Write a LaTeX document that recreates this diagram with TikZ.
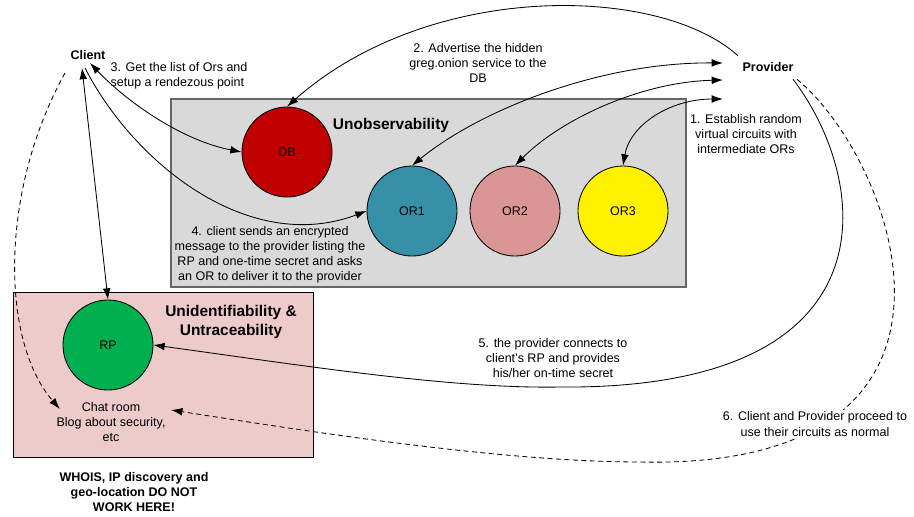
\documentclass[tikz,border=0pt]{standalone}
\usepackage{fontspec}
\setmainfont{Liberation Sans}
\usetikzlibrary{arrows.meta,calc}
\definecolor{boxgray}{HTML}{D9D9D9}
\definecolor{edgegray}{HTML}{666666}
\definecolor{boxpink}{HTML}{EDCBCB}
\definecolor{dbred}{HTML}{C00000}
\definecolor{orteal}{HTML}{3590A8}
\definecolor{orrose}{HTML}{DA9694}
\definecolor{rpgreen}{HTML}{00B050}
\begin{document}
\begin{tikzpicture}[x=0.025cm,y=-0.025cm,
		peer/.style={circle,draw=black,line width=0.6pt,minimum size=2.25cm,inner sep=0pt,font=\fontsize{8.9}{10.7}\selectfont},
		txt/.style={align=center,inner sep=1pt,font=\fontsize{8.9}{10.7}\selectfont},
		tag/.style={align=center,inner sep=1pt,font=\fontsize{8.9}{10.7}\selectfont\bfseries},
		head/.style={align=center,inner sep=1pt,font=\fontsize{11}{13.5}\selectfont\bfseries},
		link/.style={line width=0.6pt,-{Latex[length=8pt,width=5.5pt]}},
		twoway/.style={line width=0.6pt,{Latex[length=8pt,width=5.5pt]}-{Latex[length=8pt,width=5.5pt]}},
		dashlink/.style={link,dash pattern=on 3.5pt off 2.5pt}]
			\useasboundingbox (0,0) rectangle (914,516);
			\draw[draw=edgegray,line width=1pt,fill=boxgray] (171,99) rectangle (686,287);
			\draw[line width=0.7pt,fill=boxpink] (13,292) rectangle (313,457);
			\node[peer,fill=dbred] (db) at (287,152) {DB};
			\node[peer,fill=orteal] (or1) at (412,211) {OR1};
			\node[peer,fill=orrose] (or2) at (515,211) {OR2};
			\node[peer,fill=yellow] (or3) at (623,211) {OR3};
			\node[peer,fill=rpgreen] (rp) at (108,345) {RP};
			\node[tag] (client) at (88,55) {Client};
			\node[tag] (provider) at (768,67) {Provider};
			\node[head] (unobs) at (391,125) {Unobservability};
			\node[head] (unid) at (231,322) {Unidentifiability \&\\Untraceability};
			\node[txt] (chat) at (111,422) {Chat room\\Blog about security,\\etc};
			\node[tag] (whois) at (134,492) {WHOIS, IP discovery and\\geo-location DO NOT\\WORK HERE!};
			\node[txt] (step1) at (746,134) {1. Establish random\\virtual circuits with\\intermediate ORs};
			\node[txt] (step2) at (478,63) {2. Advertise the hidden\\greg.onion service to the\\DB};
			\node[txt,align=left] (step3) at (179,76) {3. Get the list of Ors and\\setup a rendezous point};
			\node[txt] (step4) at (270,255) {4. client sends an encrypted\\message to the provider listing the\\RP and one-time secret and asks\\an OR to deliver it to the provider};
			\node[txt] (step5) at (553,358) {5. the provider connects to\\client’s RP and provides\\his/her on-time secret};
			\draw[link] ($(provider.north west)+(-3,-5)$) .. controls (660,-15) and (430,-20) .. (db.north);
			\draw[twoway] (or1.north) .. controls (480,110) and (600,62) .. ($(provider.west)+(-18,-4)$);
			\draw[twoway] (or2.north) .. controls (560,120) and (640,82) .. ($(provider.west)+(-18,13)$);
			\draw[twoway] (or3.north) .. controls (630,125) and (670,99) .. ($(provider.west)+(-18,32)$);
			\draw[twoway] ($(client)+(2,8)$) .. controls (125,100) and (180,140) .. (db.west);
			\draw[link] ($(client)+(-3,13)$) .. controls (135,165) and (250,255) .. (or1.west);
			\draw[twoway] ($(client)+(-6,13)$) -- (rp.north);
			\draw[dashlink] ($(client)+(-23,18)$) .. controls (0,190) and (0,340) .. ($(chat.west)+(5,-13)$);
			\draw[link] ($(provider.south)+(25,6)$) .. controls (870,180) and (900,390) .. (560,387) .. controls (450,389) and (300,365) .. (rp.east);
			\draw[dashlink] ($(provider.south)+(29,6)$) .. controls (895,160) and (1010,470) .. (640,462) .. controls (500,462) and (300,430) .. ($(chat.east)+(4,-12)$);
			\node[txt,fill=white] (step6) at (815,424) {6. Client and Provider proceed to\\use their circuits as normal};
\end{tikzpicture}
\end{document}
